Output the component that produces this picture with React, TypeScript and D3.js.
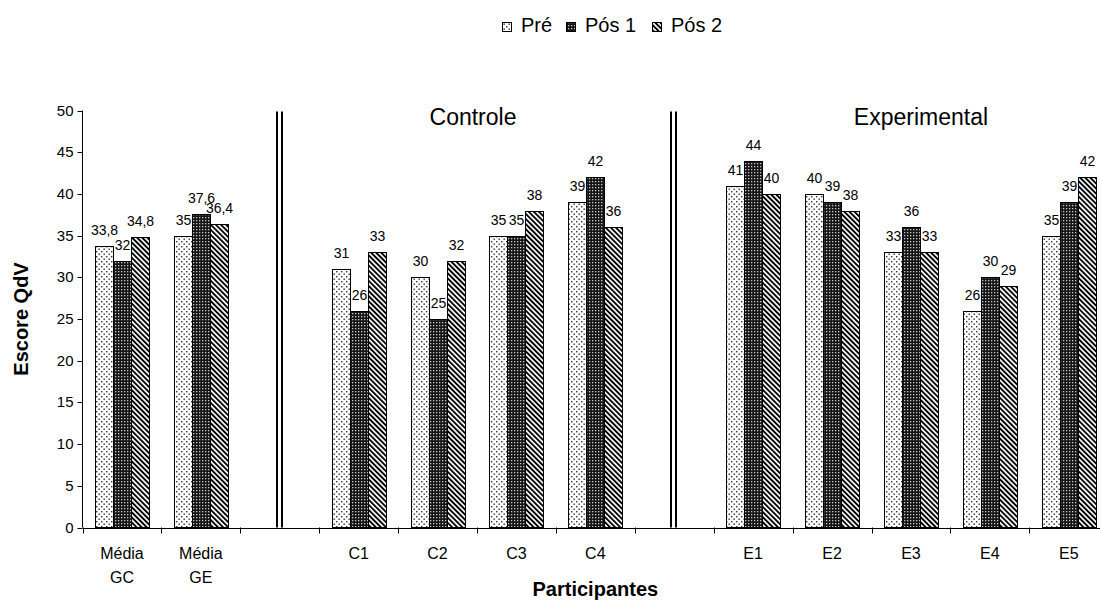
import React from 'react';
import * as d3 from 'd3';

// categorias (sep = coluna vazia com a linha dupla)
const categories = ['Média GC', 'Média GE', 'sep1', 'C1', 'C2', 'C3', 'C4', 'sep2', 'E1', 'E2', 'E3', 'E4', 'E5'];
const categoryLabels = [['Média', 'GC'], ['Média', 'GE'], [], ['C1'], ['C2'], ['C3'], ['C4'], [], ['E1'], ['E2'], ['E3'], ['E4'], ['E5']];
const seriesNames = ['Pré', 'Pós 1', 'Pós 2'];
const pre = [33.8, 35, null, 31, 30, 35, 39, null, 41, 40, 33, 26, 35];
const pos1 = [32, 37.6, null, 26, 25, 35, 42, null, 44, 39, 36, 30, 39];
const pos2 = [34.8, 36.4, null, 33, 32, 38, 36, null, 40, 38, 33, 29, 42];
const yTicks = [0, 5, 10, 15, 20, 25, 30, 35, 40, 45, 50];

const seriesValues = [pre, pos1, pos2];
const fills = ['url(#pPre)', 'url(#pPos1)', 'url(#pPos2)'];
const font = 'Arial, "Liberation Sans", sans-serif';

const fmt = (v: number) => String(v).replace('.', ',');

export default function App() {
  const left = 82.5;
  const step = 78.9;
  const x = d3.scaleBand<string>()
    .domain(categories)
    .range([left, left + step * categories.length])
    .padding(0);
  const y = d3.scaleLinear().domain([0, 50]).range([527.5, 110.5]);
  const xs = d3.scaleBand<string>()
    .domain(seriesNames)
    .range([0, x.bandwidth()])
    .paddingInner(0)
    .paddingOuter(0.69);

  const bars: any[] = [];
  categories.forEach((c, i) => {
    seriesValues.forEach((vals, s) => {
      const v = vals[i];
      if (v == null) return;
      const bx = Math.round((x(c) as number) + (xs(seriesNames[s]) as number)) + 0.5;
      const bw = Math.round(xs.bandwidth());
      const by = Math.round(y(v)) + 0.5;
      bars.push({ key: c + s, bx, bw, by, h: y(0) - by, v, s });
    });
  });

  const seps = ['sep1', 'sep2'].map(k => (x(k) as number) + x.bandwidth() / 2);
  const boundaries = d3.range(categories.length + 1).map(i => left + i * step);

  return (
    <svg width={1100} height={601} style={{ position: 'absolute', left: 0, top: 0, background: '#fff' }}
      fontFamily={font}>
      <defs>
        <pattern id="pPre" width={5} height={5} patternUnits="userSpaceOnUse">
          <rect width={5} height={5} fill="#fff" />
          <rect x={1} y={1} width={1.4} height={1.4} fill="#333" />
          <rect x={3.5} y={3.5} width={1.4} height={1.4} fill="#333" />
        </pattern>
        <pattern id="pPos1" width={3} height={3} patternUnits="userSpaceOnUse">
          <rect width={3} height={3} fill="#151515" />
          <rect x={1} y={1} width={1.3} height={1.3} fill="#c8c8c8" />
        </pattern>
        <pattern id="pPos2" width={3.6} height={3.6} patternUnits="userSpaceOnUse" patternTransform="rotate(-45)">
          <rect width={3.6} height={3.6} fill="#fff" />
          <rect width={1.9} height={3.6} fill="#000" />
        </pattern>
      </defs>

      {/* legenda */}
      {seriesNames.map((n, i) => {
        const bxs = [502, 566, 652];
        return (
          <g key={n}>
            <rect x={bxs[i] + 0.5} y={22.5} width={9} height={9} fill={fills[i]} stroke="#000" />
            <text x={bxs[i] + 19} y={32} fontSize={20} fill="#000">{n}</text>
          </g>
        );
      })}

      {/* eixo y */}
      <line x1={left} x2={left} y1={y(50)} y2={y(0)} stroke="#000" />
      {yTicks.map(t => (
        <g key={t}>
          <line x1={left - 5} x2={left} y1={Math.round(y(t)) + 0.5} y2={Math.round(y(t)) + 0.5} stroke="#000" />
          <text x={left - 9} y={y(t) + 5} fontSize={15} textAnchor="end">{t}</text>
        </g>
      ))}
      <text transform={`translate(28,${(y(0) + y(50)) / 2}) rotate(-90)`} fontSize={20} fontWeight="bold"
        textAnchor="middle">Escore QdV</text>

      {/* eixo x */}
      <line x1={left} x2={left + step * categories.length} y1={Math.round(y(0)) + 0.5} y2={Math.round(y(0)) + 0.5} stroke="#000" />
      {boundaries.map((b, i) => (
        <line key={i} x1={Math.round(b) + 0.5} x2={Math.round(b) + 0.5} y1={y(0)} y2={y(0) + 6} stroke="#000" />
      ))}
      {categories.map((c, i) => (
        <text key={c} x={(x(c) as number) + x.bandwidth() / 2} y={559} fontSize={16} textAnchor="middle">
          {categoryLabels[i].map((l, j) => (
            <tspan key={j} x={(x(c) as number) + x.bandwidth() / 2} dy={j === 0 ? 0 : 24}>{l}</tspan>
          ))}
        </text>
      ))}
      <text x={left + step * categories.length / 2} y={596} fontSize={20} fontWeight="bold" textAnchor="middle">Participantes</text>

      {/* separadores */}
      {seps.map((s, i) => (
        <g key={i}>
          <rect x={Math.round(s) - 4} y={y(50) + 1} width={2} height={y(0) - y(50) - 1} fill="#000" />
          <rect x={Math.round(s) + 1} y={y(50) + 1} width={2} height={y(0) - y(50) - 1} fill="#000" />
        </g>
      ))}

      <text x={(x('C3') as number) - 4} y={125} fontSize={23} textAnchor="middle">Controle</text>
      <text x={(x('E3') as number) + x.bandwidth() / 2 + 10} y={125} fontSize={23} textAnchor="middle">Experimental</text>

      {/* barras */}
      {bars.map(b => (
        <rect key={b.key} x={b.bx} y={b.by} width={b.bw} height={b.h} fill={fills[b.s]} stroke="#000" />
      ))}
      {bars.map(b => (
        <text key={'l' + b.key} x={b.bx + b.bw / 2} y={b.by - 12} fontSize={14} textAnchor="middle">{fmt(b.v)}</text>
      ))}
    </svg>
  );
}
